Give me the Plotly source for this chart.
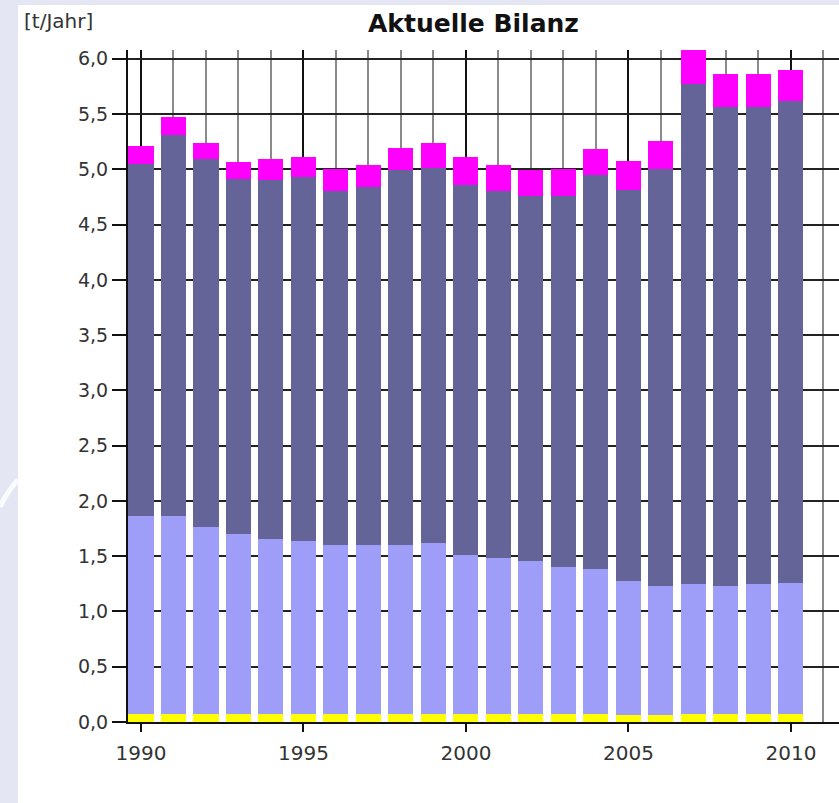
import plotly.graph_objects as go

years = [1990, 1991, 1992, 1993, 1994, 1995, 1996, 1997, 1998, 1999, 2000,
         2001, 2002, 2003, 2004, 2005, 2006, 2007, 2008, 2009, 2010]
# stacked layers in t/Jahr, bottom to top
yellow = [0.07, 0.07, 0.07, 0.07, 0.07, 0.07, 0.07, 0.07, 0.07, 0.07, 0.07,
          0.07, 0.07, 0.07, 0.07, 0.06, 0.06, 0.07, 0.07, 0.07, 0.07]
light = [1.79, 1.79, 1.69, 1.63, 1.59, 1.57, 1.53, 1.53, 1.53, 1.55, 1.44,
         1.41, 1.39, 1.33, 1.31, 1.22, 1.17, 1.18, 1.16, 1.18, 1.19]
dark = [3.19, 3.45, 3.33, 3.21, 3.24, 3.29, 3.20, 3.24, 3.39, 3.39, 3.35,
        3.32, 3.30, 3.36, 3.57, 3.53, 3.77, 4.52, 4.33, 4.31, 4.36]
magenta = [0.16, 0.16, 0.15, 0.16, 0.19, 0.18, 0.20, 0.20, 0.20, 0.23, 0.25,
           0.24, 0.23, 0.24, 0.23, 0.27, 0.26, 0.31, 0.30, 0.30, 0.28]

title_text = "Aktuelle Bilanz"
unit_text = "[t/Jahr]"

W, H = 839, 803
FONT = "DejaVu Sans"
BG = "#e4e6f4"
PW, PH = W - 128, H - 131

fig = go.Figure()
for vals, col in [(yellow, "#ffff00"), (light, "#9e9ef8"),
                  (dark, "#646498"), (magenta, "#ff00ff")]:
    fig.add_trace(go.Bar(x=years, y=vals, width=0.77, marker_color=col,
                         marker_line_width=0, showlegend=False,
                         hoverinfo="skip"))

fig.update_layout(
    width=W, height=H,
    barmode="stack",
    separators=",.",
    paper_bgcolor=BG,
    plot_bgcolor="white",
    margin=dict(l=128, r=0, t=50, b=81, pad=0),
    font=dict(family=FONT, size=19, color="#333333"),
    shapes=[
        dict(type="rect", xref="paper", yref="paper",
             x0=-110 / PW, x1=1.0, y0=-90 / PH, y1=1 + 45 / PH,
             fillcolor="white", line_width=0, layer="below"),
        dict(type="path", xref="paper", yref="paper",
             path="M %f,%f Q %f,%f %f,%f" % (-128 / PW, 0.32, -120 / PW, 0.345, -110 / PW, 0.36),
             line=dict(color="rgba(255,255,255,0.85)", width=5), layer="below"),
    ],
    annotations=[
        dict(text="<b>" + title_text + "</b>", xref="paper", yref="paper",
             x=(473 - 128) / PW, y=1 + 26 / PH, xanchor="center", yanchor="middle",
             showarrow=False, font=dict(family=FONT, size=25, color="#111111")),
        dict(text=unit_text, xref="paper", yref="paper",
             x=(22 - 128) / PW, y=1 + 29 / PH, xanchor="left", yanchor="middle",
             showarrow=False, font=dict(family=FONT, size=20, color="#333333")),
    ],
)

fig.update_xaxes(
    range=[1989.6, 2011.48],
    tick0=1990, dtick=5,
    ticks="outside", ticklen=8, tickwidth=2, tickcolor="#111111",
    ticklabelstandoff=4,
    showline=True, linecolor="#111111", linewidth=2,
    showgrid=True, gridcolor="#111111", gridwidth=2,
    minor=dict(tick0=1990, dtick=1, showgrid=True, gridcolor="#8a8a8a",
               gridwidth=1.5, ticks=""),
    zeroline=False,
    tickfont=dict(size=20, color="#333333"),
)
fig.update_yaxes(
    range=[0, 6.08],
    tick0=0, dtick=0.5, tickformat=".1f",
    ticks="outside", ticklen=14, tickwidth=2, tickcolor="#111111",
    showline=True, linecolor="#111111", linewidth=2,
    showgrid=True, gridcolor="#222222", gridwidth=1.5,
    zeroline=False,
    tickfont=dict(size=19, color="#333333"),
)

fig.write_html(
    "out.html",
    config={"displayModeBar": False},
    post_script="document.body.style.margin='0';document.body.style.background='%s';"
                "document.documentElement.style.overflow='hidden';" % BG,
)
